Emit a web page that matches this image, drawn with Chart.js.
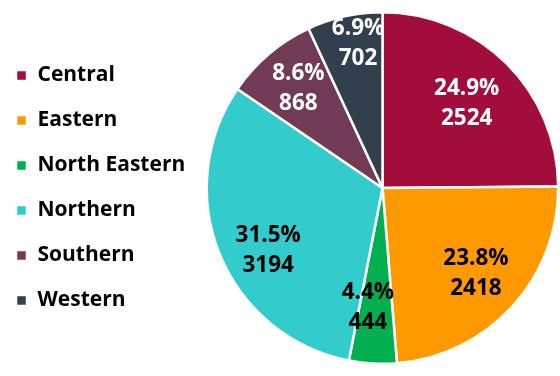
<!DOCTYPE html>
<html>
<head>
<meta charset="utf-8">
<script src="https://cdn.jsdelivr.net/npm/chart.js@4/dist/chart.umd.min.js"></script>
<style>
    html, body { margin: 0; padding: 0; background: #fff; }
    #wrap { width: 560px; height: 376px; }
</style>
</head>
<body>
<div id="wrap"><canvas id="regionChart" width="560" height="376"></canvas></div>
<script>
// Region totals
const regions = ['Central', 'Eastern', 'North Eastern', 'Northern', 'Southern', 'Western'];
const counts = [2524, 2418, 444, 3194, 868, 702];

const sliceColors = ['#A20D3B', '#FF9900', '#00B050', '#33CCCC', '#723B55', '#323F4F'];
const labelColors = ['#fff', '#000', '#000', '#000', '#fff', '#fff'];
// label placement: fraction of radius along the slice's mid angle, plus a small pixel nudge
const labelRadius = [0.68, 0.72, 0.68, 0.74, 0.74, 0.83];
const labelNudge = [[0, 0], [0, 0], [-8, 0], [6, 13], [0, 0], [7, -2]];

const FONT = '"Open Sans", "Noto Sans", sans-serif';

// Percent + value text inside each slice
const sliceLabels = {
    id: 'sliceLabels',
    afterDatasetsDraw(chart) {
        const ctx = chart.ctx;
        const meta = chart.getDatasetMeta(0);
        const total = counts.reduce((a, b) => a + b, 0);
        ctx.save();
        ctx.font = `bold 22.5px ${FONT}`;
        ctx.textAlign = 'center';
        ctx.textBaseline = 'middle';
        meta.data.forEach((arc, i) => {
            const p = arc.getProps(['x', 'y', 'startAngle', 'endAngle', 'outerRadius'], true);
            const mid = (p.startAngle + p.endAngle) / 2;
            const r = p.outerRadius * labelRadius[i];
            const cx = p.x + Math.cos(mid) * r + labelNudge[i][0];
            const cy = p.y + Math.sin(mid) * r + labelNudge[i][1];
            ctx.fillStyle = labelColors[i];
            ctx.fillText((counts[i] / total * 100).toFixed(1) + '%', cx, cy - 15);
            ctx.fillText(String(counts[i]), cx, cy + 15);
        });
        ctx.restore();
    }
};

// Fixed legend column width so the pie sits on the right
const legendWidth = {
    id: 'legendWidth',
    beforeInit(chart) {
        const fit = chart.legend.fit;
        chart.legend.fit = function () {
            fit.call(this);
            this.width = 213;
        };
    }
};

new Chart(document.getElementById('regionChart'), {
    type: 'pie',
    data: {
        labels: regions,
        datasets: [{
            data: counts,
            backgroundColor: sliceColors,
            borderColor: '#fff',
            borderWidth: 2.5
        }]
    },
    options: {
        responsive: false,
        animation: false,
        layout: { padding: { left: -8, top: 11, bottom: 11, right: 0 } },
        plugins: {
            tooltip: { enabled: false },
            legend: {
                position: 'left',
                align: 'center',
                labels: {
                    boxWidth: 11,
                    boxHeight: 11,
                    padding: 24,
                    color: '#000',
                    font: { family: FONT, size: 21, weight: 'bold' }
                }
            }
        }
    },
    plugins: [legendWidth, sliceLabels]
});
</script>
</body>
</html>
